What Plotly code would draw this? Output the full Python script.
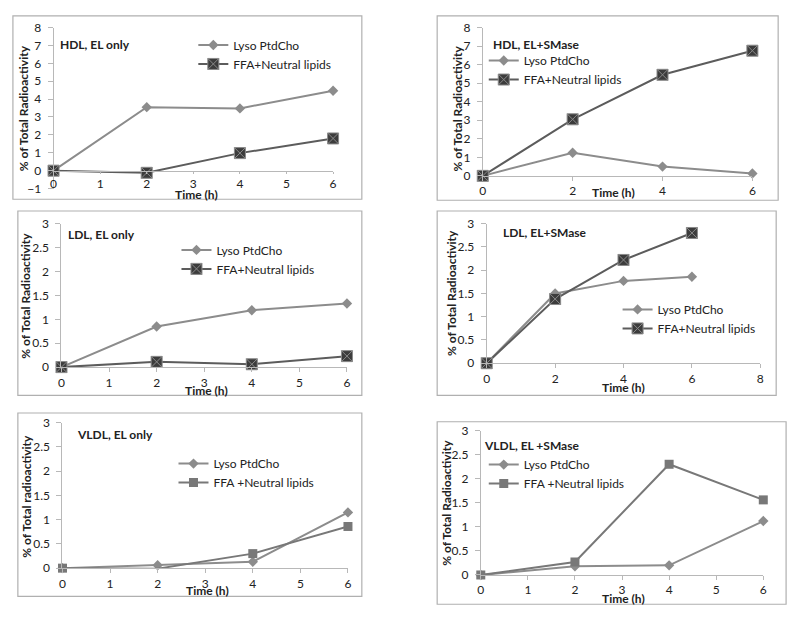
import plotly.graph_objects as go

# ---------------- data ----------------
time_h = [0, 2, 4, 6]

hdl_el_lyso = [0, 3.55, 3.48, 4.47]
hdl_el_ffa = [0, -0.12, 0.98, 1.80]

hdl_sm_lyso = [0, 1.25, 0.50, 0.13]
hdl_sm_ffa = [0, 3.05, 5.45, 6.75]

ldl_el_lyso = [0, 0.85, 1.19, 1.33]
ldl_el_ffa = [0, 0.11, 0.06, 0.23]

ldl_sm_lyso = [0, 1.50, 1.77, 1.86]
ldl_sm_ffa = [0, 1.38, 2.22, 2.80]

vldl_el_lyso = [0, 0.06, 0.13, 1.15]
vldl_el_ffa = [0, -0.01, 0.30, 0.86]

vldl_sm_lyso = [0, 0.18, 0.20, 1.12]
vldl_sm_ffa = [0, 0.27, 2.30, 1.56]

panel_titles = ["HDL, EL only", "HDL, EL+SMase", "LDL, EL only",
                "LDL, EL+SMase", "VLDL, EL only", "VLDL, EL +SMase"]
lyso_name = "Lyso PtdCho"
ffa_names = ["FFA+Neutral lipids"] * 4 + ["FFA +Neutral lipids"] * 2
ytitles = ["% of Total Radioactivity"] * 4 + ["% of Total radioactivity", "% of Total Radioactivity"]
xtitle = "Time (h)"

# ---------------- layout helpers ----------------
W, H = 800, 622
FONT = "Lato, 'Open Sans', sans-serif"
def px(x):
    return x / W
def py(y):
    return 1 - y / H

# panel geometry in pixels (plot area left, right, top, bottom) and frame
panels = [
    dict(pl=51, pr=333, pt=20, pb=185, yr=[-1, 8], ydt=1, xr=[0, 6], xdt=1,
         frame=(10, 8, 362, 196), title=(55, 37), ytitle=(21, 103), xtitle=(195, 191),
         leg=(200, 44)),
    dict(pl=484, pr=756, pt=20, pb=172, yr=[0, 8], ydt=1, xr=[0, 6], xdt=2,
         frame=(438, 8, 782, 197), title=(492, 37), ytitle=(459, 103), xtitle=(616, 189),
         leg=(493, 60)),
    dict(pl=59, pr=347, pt=221, pb=368, yr=[0, 3], ydt=0.5, xr=[0, 6], xdt=1,
         frame=(15, 208, 362, 397), title=(64, 232), ytitle=(23, 295), xtitle=(205, 392),
         leg=(183, 254)),
    dict(pl=488, pr=764, pt=221, pb=364, yr=[0, 3], ydt=0.5, xr=[0, 8], xdt=2,
         frame=(438, 208, 780, 397), title=(502, 230), ytitle=(453, 292), xtitle=(626, 389),
         leg=(628, 315)),
    dict(pl=60, pr=348, pt=425, pb=574, yr=[0, 3], ydt=0.5, xr=[0, 6], xdt=1,
         frame=(15, 415, 362, 603), title=(73, 437), ytitle=(24, 500), xtitle=(206, 597),
         leg=(180, 473)),
    dict(pl=482, pr=767, pt=433, pb=581, yr=[0, 3], ydt=0.5, xr=[0, 6], xdt=1,
         frame=(438, 424, 790, 611), title=(483, 448), ytitle=(448, 507), xtitle=(626, 605),
         leg=(493, 474)),
]

series = [
    (hdl_el_lyso, hdl_el_ffa),
    (hdl_sm_lyso, hdl_sm_ffa),
    (ldl_el_lyso, ldl_el_ffa),
    (ldl_sm_lyso, ldl_sm_ffa),
    (vldl_el_lyso, vldl_el_ffa),
    (vldl_sm_lyso, vldl_sm_ffa),
]

LYSO_C = "#8c8c8c"
FFA_LINE = "#5c5c5c"
FFA_FILL = "#3c3c3c"
FFA_GRAY = "#787878"
TXT = "#222"
FS = 12

fig = go.Figure()
layout = dict(
    width=W, height=H, margin=dict(l=0, r=0, t=0, b=0),
    paper_bgcolor="white", plot_bgcolor="white",
    font=dict(family=FONT, size=FS, color=TXT),
    shapes=[], annotations=[],
)

for i, (p, (lyso, ffa)) in enumerate(zip(panels, series)):
    n = i + 1
    xa = "x" if n == 1 else f"x{n}"
    ya = "y" if n == 1 else f"y{n}"
    lg = "legend" if n == 1 else f"legend{n}"
    xkey = "xaxis" if n == 1 else f"xaxis{n}"
    ykey = "yaxis" if n == 1 else f"yaxis{n}"

    fig.add_trace(go.Scatter(
        x=time_h, y=lyso, name=lyso_name, mode="lines+markers",
        line=dict(color=LYSO_C, width=2),
        marker=dict(symbol="diamond", size=8, color=LYSO_C),
        xaxis=xa, yaxis=ya, legend=lg, cliponaxis=False))
    if n <= 4:
        fmark = dict(symbol="square-x", size=11, color=FFA_FILL,
                     line=dict(color="#8a8a8a", width=1))
        fline = dict(color=FFA_LINE, width=2)
    else:
        fmark = dict(symbol="square", size=9, color=FFA_GRAY)
        fline = dict(color=FFA_GRAY, width=2)
    fig.add_trace(go.Scatter(
        x=time_h, y=ffa, name=ffa_names[i], mode="lines+markers",
        line=fline, marker=fmark,
        xaxis=xa, yaxis=ya, legend=lg, cliponaxis=False))

    ydom = [py(p["pb"]), py(p["pt"])]
    xdom = [px(p["pl"]), px(p["pr"])]
    yr = p["yr"]
    xaxis = dict(domain=xdom, range=p["xr"], dtick=p["xdt"], tick0=0,
                 showgrid=False, zeroline=False, showline=True, linecolor="#b8b8b8",
                 linewidth=1, ticks="outside", ticklen=4, tickcolor="#b8b8b8",
                 tickfont=dict(size=FS, color=TXT), fixedrange=True)
    if yr[0] < 0:
        zero_pix = p["pb"] - (0 - yr[0]) / (yr[1] - yr[0]) * (p["pb"] - p["pt"])
        xaxis.update(anchor="free", position=py(zero_pix), ticklen=2)
    else:
        xaxis.update(anchor=ya)
    yaxis = dict(domain=ydom, range=yr, dtick=p["ydt"], tick0=0, anchor=xa,
                 showgrid=False, zeroline=False, showline=True, linecolor="#b8b8b8",
                 linewidth=1, ticks="outside", ticklen=5, tickcolor="#b8b8b8",
                 ticklabelstandoff=4,
                 tickfont=dict(size=FS, color=TXT), fixedrange=True)
    layout[xkey] = xaxis
    layout[ykey] = yaxis

    lx, ly = p["leg"]
    layout[lg] = dict(x=px(lx - 8), y=py(ly - 21), xanchor="left", yanchor="top",
                      bgcolor="rgba(0,0,0,0)", font=dict(size=FS, color=TXT, family=FONT),
                      itemwidth=30, tracegroupgap=0, traceorder="normal")

    fx0, fy0, fx1, fy1 = p["frame"]
    layout["shapes"].append(dict(type="rect", xref="paper", yref="paper",
                                 x0=px(fx0), x1=px(fx1), y0=py(fy1), y1=py(fy0),
                                 line=dict(color="#b0b0b0", width=1.2), layer="below"))
    tx, ty = p["title"]
    layout["annotations"].append(dict(text=f"<b>{panel_titles[i]}</b>", xref="paper", yref="paper",
                                      x=px(tx), y=py(ty), xanchor="left", yanchor="middle",
                                      showarrow=False, font=dict(size=FS, color=TXT)))
    yx, yy = p["ytitle"]
    layout["annotations"].append(dict(text=f"<b>{ytitles[i]}</b>", xref="paper", yref="paper",
                                      x=px(yx), y=py(yy), xanchor="center", yanchor="middle",
                                      textangle=-90, showarrow=False,
                                      font=dict(size=FS, color=TXT)))
    xx, xy = p["xtitle"]
    layout["annotations"].append(dict(text=f"<b>{xtitle}</b>", xref="paper", yref="paper",
                                      x=px(xx), y=py(xy), xanchor="center", yanchor="middle",
                                      showarrow=False, font=dict(size=FS, color=TXT)))

fig.update_layout(**layout)
fig.write_html("out.html", config={"displayModeBar": False},
               post_script="document.body.style.margin='0';document.body.style.overflow='hidden';")
